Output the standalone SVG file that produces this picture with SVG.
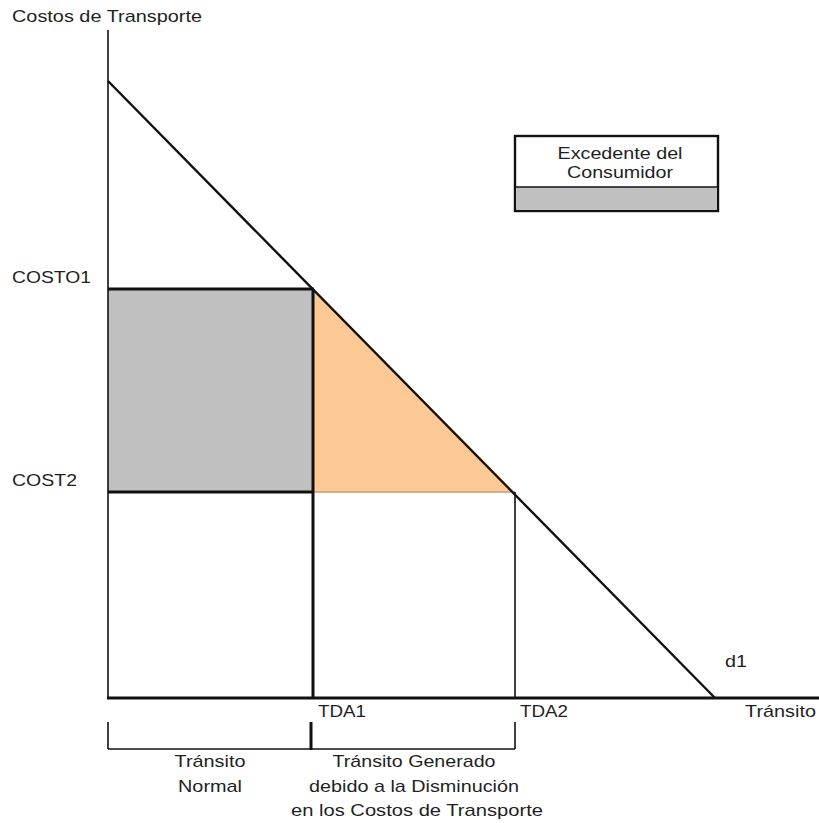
<svg xmlns="http://www.w3.org/2000/svg" width="819" height="823" viewBox="0 0 819 823">
<style>
text{font-family:"Liberation Sans",Arial,sans-serif;font-size:17px;fill:#1f1f1f}
.c{text-anchor:middle}
.thin{stroke:#111;stroke-width:1.6;fill:none}
.thick{stroke:#111;stroke-width:3;fill:none}
.mid{stroke:#111;stroke-width:2.4;fill:none}
</style>
<rect width="819" height="823" fill="#fff"/>
<g id="gray-area">
<rect x="108" y="289" width="205" height="203" fill="#c0c0c0"/>
</g>
<g id="orange-area">
<polygon points="313,289 313,492 515,492" fill="#fcc994"/>
<line x1="313" y1="492" x2="515" y2="492" stroke="#c89c70" stroke-width="1.5"/>
</g>
<g id="connectors">
<line class="thin" x1="108" y1="30" x2="108" y2="698"/>
<line class="mid" x1="108" y1="81" x2="715" y2="698"/>
<line class="thick" x1="108" y1="289" x2="314" y2="289"/>
<line class="thick" x1="108" y1="492" x2="314" y2="492"/>
<line class="thick" x1="313" y1="289" x2="313" y2="698"/>
<line class="thin" x1="515" y1="492" x2="515" y2="698"/>
<line class="thick" x1="107" y1="698" x2="819" y2="698"/>
<line class="thin" x1="108" y1="749" x2="515" y2="749"/>
<line class="thin" x1="108" y1="722" x2="108" y2="749"/>
<line class="thick" x1="311" y1="722" x2="311" y2="750"/>
<line class="thin" x1="515" y1="722" x2="515" y2="749"/>
</g>
<g id="legend">
<rect x="515" y="136" width="203" height="75" fill="#fff" stroke="#111" stroke-width="2.4"/>
<rect x="516.2" y="187" width="200.6" height="22.8" fill="#c0c0c0"/>
<line x1="515" y1="187" x2="718" y2="187" stroke="#111" stroke-width="1.6"/>
<text class="c" x="620" y="159" textLength="125" lengthAdjust="spacingAndGlyphs">Excedente del</text>
<text class="c" x="620" y="178" textLength="106" lengthAdjust="spacingAndGlyphs">Consumidor</text>
</g>
<g id="labels">
<text x="12" y="22" textLength="190" lengthAdjust="spacingAndGlyphs">Costos de Transporte</text>
<text x="12" y="283" textLength="79" lengthAdjust="spacingAndGlyphs">COSTO1</text>
<text x="12" y="486" textLength="65" lengthAdjust="spacingAndGlyphs">COST2</text>
<text x="318" y="717" textLength="48" lengthAdjust="spacingAndGlyphs">TDA1</text>
<text x="520" y="717" textLength="48" lengthAdjust="spacingAndGlyphs">TDA2</text>
<text x="745" y="717" textLength="71" lengthAdjust="spacingAndGlyphs">Tránsito</text>
<text x="725" y="667" textLength="22" lengthAdjust="spacingAndGlyphs">d1</text>
<text class="c" x="210" y="767" textLength="71" lengthAdjust="spacingAndGlyphs">Tránsito</text>
<text class="c" x="210" y="792" textLength="64" lengthAdjust="spacingAndGlyphs">Normal</text>
<text class="c" x="414" y="767" textLength="163" lengthAdjust="spacingAndGlyphs">Tránsito Generado</text>
<text class="c" x="414" y="792" textLength="210" lengthAdjust="spacingAndGlyphs">debido a la Disminución</text>
<text class="c" x="417" y="816" textLength="252" lengthAdjust="spacingAndGlyphs">en los Costos de Transporte</text>
</g>
</svg>
